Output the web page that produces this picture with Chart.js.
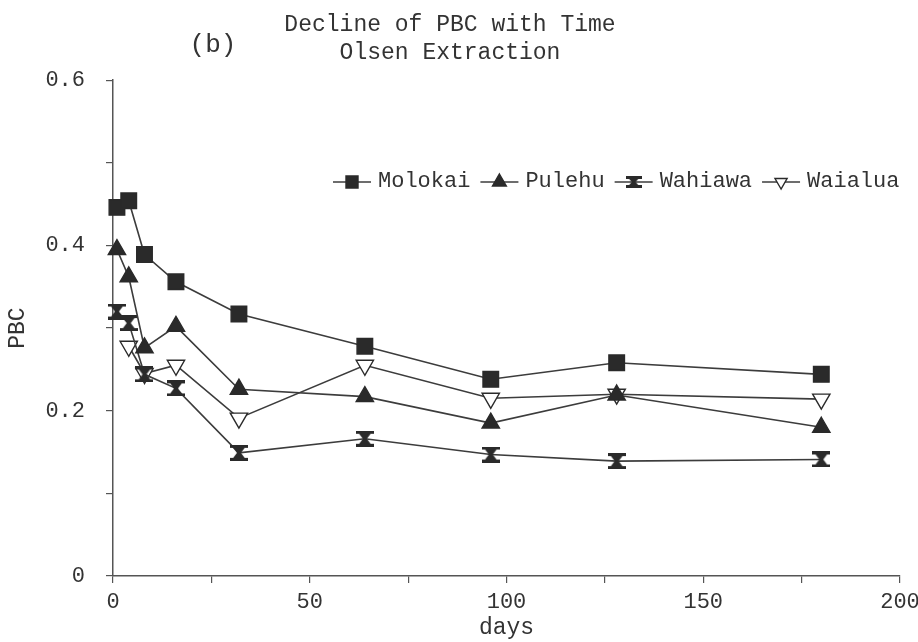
<!DOCTYPE html>
<html><head><meta charset="utf-8">
<script src="https://cdn.jsdelivr.net/npm/chart.js@4.4.1/dist/chart.umd.min.js"></script>
<style>html,body{margin:0;padding:0;background:#fff}#wrap{width:918px;height:642px}</style>
</head><body><div id="wrap"><canvas id="c" width="918" height="642"></canvas></div>
<script>
// ---- data ----
const days    = [1, 4, 8, 16, 32, 64, 96, 128, 180];
const molokai = [0.446, 0.454, 0.389, 0.356, 0.317, 0.278, 0.238, 0.258, 0.244];
const pulehu  = [0.395, 0.362, 0.276, 0.302, 0.226, 0.217, 0.185, 0.219, 0.180];
const wahiawa = [0.320, 0.306, 0.244, 0.227, 0.149, 0.166, 0.147, 0.139, 0.141];
const waialua = [null, 0.278, 0.245, 0.255, 0.191, 0.255, 0.215, 0.220, 0.214];
const seriesNames = ['Molokai', 'Pulehu', 'Wahiawa', 'Waialua'];
const xTickLabels = [0, 50, 100, 150, 200];
const yTickLabels = [0, 0.2, 0.4, 0.6];
const titleLines = ['Decline of PBC with Time', 'Olsen Extraction'];
const panelLabel = '(b)';
const xTitle = 'days';
const yTitle = 'PBC';

const INK = '#2a2a2a';
const LINE = '#3c3c3c';
const FONT = "'Liberation Mono', 'DejaVu Sans Mono', monospace";
Chart.defaults.font.family = FONT;
Chart.defaults.color = '#333';

function hourglass(w, h, col) {
  const c = document.createElement('canvas');
  c.width = w; c.height = h;
  const g = c.getContext('2d');
  g.fillStyle = col;
  g.beginPath();
  g.moveTo(1, 0); g.lineTo(w - 1, 0); g.lineTo(w / 2 + 2, h / 2);
  g.lineTo(w - 1, h); g.lineTo(1, h); g.lineTo(w / 2 - 2, h / 2);
  g.closePath(); g.fill();
  g.fillRect(0, 0, w, 3); g.fillRect(0, h - 3, w, 3);
  return c;
}
const hgBig = hourglass(18, 16, INK);
const hgSmall = hourglass(16, 12, INK);

const pts = arr => days.map((d, i) => ({x: d, y: arr[i]}));

const styles = [
  {pointStyle: 'rect', pointRadius: 11, bg: INK, rot: 0, legendStyle: 'rect', legendR: 8.5},
  {pointStyle: 'triangle', pointRadius: 10, bg: INK, rot: 0, legendStyle: 'triangle', legendR: 8},
  {pointStyle: hgBig, pointRadius: 9, bg: INK, rot: 0, legendStyle: hgSmall, legendR: 8},
  {pointStyle: 'triangle', pointRadius: 10, bg: '#fff', rot: 180, legendStyle: 'triangle', legendR: 7}
];
const seriesData = [molokai, pulehu, wahiawa, waialua];

const datasets = seriesNames.map((name, i) => ({
  label: name,
  data: pts(seriesData[i]),
  showLine: true,
  spanGaps: false,
  borderColor: LINE,
  borderWidth: 1.6,
  pointStyle: styles[i].pointStyle,
  pointRadius: styles[i].pointRadius,
  pointHoverRadius: styles[i].pointRadius,
  pointRotation: styles[i].rot,
  pointBackgroundColor: styles[i].bg,
  pointBorderColor: INK,
  pointBorderWidth: 1.4,
  clip: false,
  tension: 0
}));

const extras = {
  id: 'extras',
  afterDraw(chart) {
    const ctx = chart.ctx;
    ctx.save();
    // panel label
    ctx.font = '26px ' + FONT;
    ctx.fillStyle = '#333';
    ctx.textAlign = 'center';
    ctx.textBaseline = 'middle';
    ctx.fillText(panelLabel, 213, 45);
    // legend
    ctx.font = '22px ' + FONT;
    ctx.textAlign = 'left';
    let x = 333;
    const y = 181;
    chart.data.datasets.forEach((ds, i) => {
      ctx.strokeStyle = LINE;
      ctx.lineWidth = 1.6;
      ctx.beginPath(); ctx.moveTo(x, y + 1); ctx.lineTo(x + 38, y + 1); ctx.stroke();
      ctx.fillStyle = styles[i].bg;
      ctx.strokeStyle = INK;
      ctx.lineWidth = 1.4;
      Chart.helpers.drawPoint(ctx, {pointStyle: styles[i].legendStyle, rotation: styles[i].rot,
        radius: styles[i].legendR, borderWidth: 1.4}, x + 19, y + 1);
      ctx.fillStyle = '#333';
      ctx.fillText(ds.label, x + 45, y);
      x += 45 + ctx.measureText(ds.label).width + 10;
    });
    ctx.restore();
  }
};

new Chart(document.getElementById('c'), {
  type: 'scatter',
  data: {datasets},
  plugins: [extras],
  options: {
    responsive: false,
    animation: false,
    devicePixelRatio: 1,
    layout: {padding: {left: 0, right: 18, top: 0, bottom: 0}},
    plugins: {
      legend: {display: false},
      tooltip: {enabled: false},
      title: {
        display: true, text: titleLines, color: '#333',
        font: {size: 23, weight: 'normal', lineHeight: 1.22},
        padding: {top: 11, bottom: 13}
      }
    },
    scales: {
      x: {
        type: 'linear', min: 0, max: 200,
        afterFit(s) { s.height = 66; s.paddingLeft = 0; s.paddingRight = 0; },
        border: {display: true, color: '#555', width: 1.5},
        grid: {display: true, drawOnChartArea: false, drawTicks: true, tickLength: 7, color: '#555', lineWidth: 1.2},
        ticks: {
          stepSize: 25, padding: 6, color: '#333', font: {size: 22},
          maxRotation: 0, autoSkip: false,
          callback: v => xTickLabels.includes(v) ? String(v) : ''
        },
        title: {display: true, text: xTitle, color: '#333', font: {size: 23}, padding: {top: 0, bottom: 0}}
      },
      y: {
        type: 'linear', min: 0, max: 0.6,
        afterFit(s) { s.width = 113; },
        border: {display: true, color: '#555', width: 1.5},
        grid: {display: true, drawOnChartArea: false, drawTicks: true, tickLength: 7, color: '#555', lineWidth: 1.2},
        ticks: {
          stepSize: 0.1, padding: 21, color: '#333', font: {size: 22}, autoSkip: false,
          callback: v => {
            const m = yTickLabels.find(t => Math.abs(t - v) < 1e-6);
            if (m === undefined) return '';
            return m === 0 ? '0' : m.toFixed(1);
          }
        },
        title: {display: true, text: yTitle, color: '#333', font: {size: 23}, padding: {top: 4, bottom: 0}}
      }
    }
  }
});
</script>
</body></html>
